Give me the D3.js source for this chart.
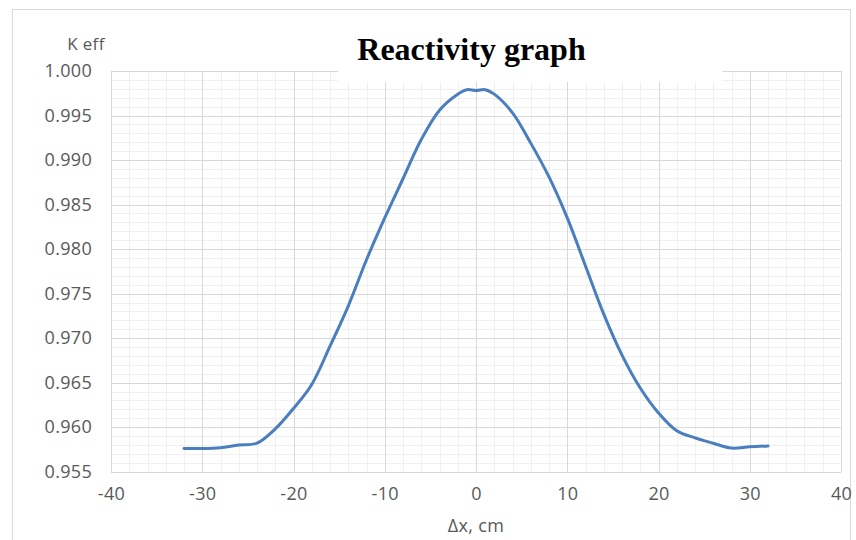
<!DOCTYPE html>
<html>
<head>
<meta charset="utf-8">
<script src="https://cdn.jsdelivr.net/npm/d3@7"></script>
<style>
  body { margin: 0; background: #fff; }
  svg { display: block; }
</style>
</head>
<body>
<script>
// displacement, cm
var dx = [-32, -30, -28, -26, -24, -22, -20, -18, -16, -14, -12, -10, -8, -6, -4, -2, -1, 0,
          1, 2, 4, 6, 8, 10, 12, 14, 16, 18, 20, 22, 24, 26, 28, 30, 32];
// K eff
var keff = [0.9576, 0.9576, 0.9577, 0.9580, 0.9582, 0.9598, 0.9621, 0.9648, 0.9691, 0.9736, 0.9788, 0.9835, 0.9879, 0.9923, 0.9956, 0.9974, 0.9979, 0.9978,
            0.9979, 0.9974, 0.9953, 0.9919, 0.9881, 0.9835, 0.9781, 0.9727, 0.9681, 0.9644, 0.9616, 0.9596, 0.9588, 0.9582, 0.95765, 0.9578, 0.9579];

var xTicks = [-40, -30, -20, -10, 0, 10, 20, 30, 40];
var yTicks = [0.955, 0.960, 0.965, 0.970, 0.975, 0.980, 0.985, 0.990, 0.995, 1.000];

var title = "Reactivity graph",
    yLabel = "K eff",
    xLabel = "\u0394x, cm";

function main(){
    var width = 856,
        height = 540;

    var x = d3.scaleLinear()
        .domain([-40, 40])
        .range([111, 841]);

    var y = d3.scaleLinear()
        .domain([0.955, 1.0])
        .range([471.7, 71]);

    var svg = d3.select("body").append("svg")
        .attr("width", width)
        .attr("height", height);

    // chart frame
    svg.append("rect")
        .attr("x", 12.5).attr("y", 9.5)
        .attr("width", 838).attr("height", 540)
        .attr("fill", "#fff")
        .attr("stroke", "#d9d9d9");

    // minor grid
    var xMinor = d3.range(0, 41).map(function(i){ return -40 + i * 2; });
    var yMinor = d3.range(0, 46).map(function(i){ return 0.955 + i * 0.001; });

    var grid = svg.append("g");
    grid.selectAll("line.xminor")
        .data(xMinor)
        .enter().append("line")
        .attr("x1", function(d){ return Math.round(x(d)) + 0.5; })
        .attr("x2", function(d){ return Math.round(x(d)) + 0.5; })
        .attr("y1", y(1.0)).attr("y2", y(0.955))
        .attr("stroke", "#f0f0f0");
    grid.selectAll("line.yminor")
        .data(yMinor)
        .enter().append("line")
        .attr("y1", function(d){ return Math.round(y(d)) + 0.5; })
        .attr("y2", function(d){ return Math.round(y(d)) + 0.5; })
        .attr("x1", x(-40)).attr("x2", x(40))
        .attr("stroke", "#f0f0f0");

    // major grid
    grid.selectAll("line.xmajor")
        .data(xTicks)
        .enter().append("line")
        .attr("x1", function(d){ return Math.round(x(d)) + 0.5; })
        .attr("x2", function(d){ return Math.round(x(d)) + 0.5; })
        .attr("y1", y(1.0)).attr("y2", y(0.955))
        .attr("stroke", "#d9d9d9");
    grid.selectAll("line.ymajor")
        .data(yTicks)
        .enter().append("line")
        .attr("y1", function(d){ return Math.round(y(d)) + 0.5; })
        .attr("y2", function(d){ return Math.round(y(d)) + 0.5; })
        .attr("x1", x(-40)).attr("x2", x(40))
        .attr("stroke", "#d9d9d9");

    // axes
    var yAxis = d3.axisLeft(y)
        .tickValues(yTicks)
        .tickFormat(d3.format(".3f"))
        .tickSize(0)
        .tickPadding(0);
    svg.append("g")
        .attr("transform", "translate(92,0)")
        .call(yAxis)
        .call(function(g){ g.select(".domain").remove(); })
        .selectAll("text")
        .attr("fill", "#595959")
        .style("font-family", "'Open Sans', sans-serif")
        .style("font-size", "18px")
        .style("letter-spacing", "0.3px");

    var xAxis = d3.axisBottom(x)
        .tickValues(xTicks)
        .tickFormat(function(d){ return String(d); })
        .tickSize(0)
        .tickPadding(0);
    svg.append("g")
        .attr("transform", "translate(0,487)")
        .call(xAxis)
        .call(function(g){ g.select(".domain").remove(); })
        .selectAll("text")
        .attr("fill", "#595959")
        .style("font-family", "'Open Sans', sans-serif")
        .style("font-size", "18px")
        .style("letter-spacing", "0.3px");

    // series
    var line = d3.line()
        .x(function(d){ return x(d[0]); })
        .y(function(d){ return y(d[1]); })
        .curve(d3.curveCatmullRom.alpha(0.5));

    svg.append("path")
        .datum(d3.zip(dx, keff))
        .attr("d", line)
        .attr("fill", "none")
        .attr("stroke", "#4a7ebf")
        .attr("stroke-width", 3)
        .attr("stroke-linecap", "round")
        .attr("stroke-linejoin", "round");

    // title with white backing
    svg.append("rect")
        .attr("x", 338).attr("y", 20)
        .attr("width", 384).attr("height", 62)
        .attr("fill", "#fff");
    svg.append("text")
        .attr("x", 471.5).attr("y", 60)
        .attr("text-anchor", "middle")
        .style("font-family", "'Liberation Serif', 'Times New Roman', serif")
        .style("font-weight", "bold")
        .style("font-size", "32px")
        .attr("fill", "#000")
        .text(title);

    svg.append("text")
        .attr("x", 86).attr("y", 50)
        .attr("text-anchor", "middle")
        .style("font-family", "'Open Sans', sans-serif")
        .style("font-size", "17px")
        .style("letter-spacing", "0.3px")
        .attr("fill", "#595959")
        .text(yLabel);

    svg.append("text")
        .attr("x", 476).attr("y", 532)
        .attr("text-anchor", "middle")
        .style("font-family", "'Open Sans', sans-serif")
        .style("font-size", "18px")
        .style("letter-spacing", "0.3px")
        .attr("fill", "#595959")
        .text(xLabel);
}

main();
</script>
</body>
</html>
